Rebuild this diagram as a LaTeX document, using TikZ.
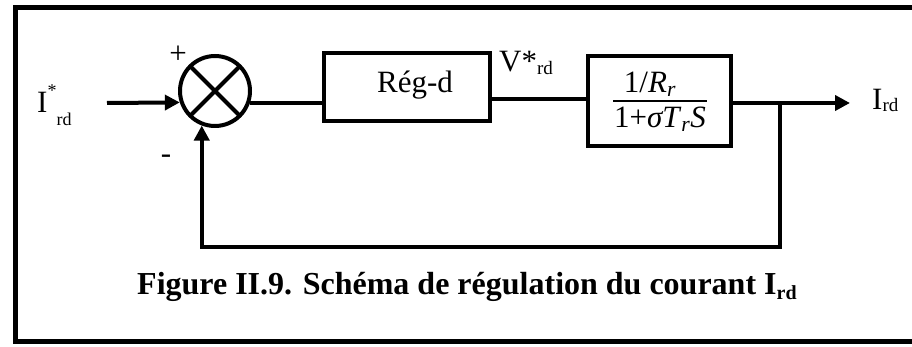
\documentclass[tikz,border=0pt]{standalone}
\usepackage{fontspec}
\setmainfont{Liberation Serif}
\usetikzlibrary{arrows.meta,calc}
\begin{document}
\begin{tikzpicture}[x=1pt,y=1pt,
  wire/.style={line width=4pt},
  arr/.style={wire,-{Triangle[length=15pt,width=15pt]}},
  blockbox/.style={draw,line width=4pt,inner sep=0pt},
  lbl/.style={inner sep=0pt,font=\fontsize{31}{31}\selectfont}]
\useasboundingbox (0,0) rectangle (912,347);
% outer frame
\draw[line width=5pt] (912,339) -- (15,339) -- (15,5) -- (912,5);
% summing junction
\node[draw,circle,line width=4pt,minimum size=70pt,inner sep=0pt] (sum) at (215,256) {};
\draw[line width=4pt] ($(sum.center)+(45:35)$) -- ($(sum.center)+(225:35)$);
\draw[line width=4pt] ($(sum.center)+(135:35)$) -- ($(sum.center)+(315:35)$);
\node[lbl] (plus) at (178,292) {+};
\node[lbl] (minus) at (166,188) {-};
% blocks
\node[blockbox,minimum width=166pt,minimum height=68pt] (reg) at (407,260) {};
\node[lbl,anchor=base] (regt) at (415,254) {Rég-d};
\node[blockbox,minimum width=143pt,minimum height=90pt] (tf) at (659.5,246) {};
\node[lbl,anchor=base] (num) at (650,254) {1/\textit{R}\textsubscript{\textit{r}}};
\node[lbl,anchor=base] (den) at (660,219) {1+\textit{σT}\textsubscript{\textit{r}}\textit{S}};
\draw[line width=1.5pt] (613,246) -- (707,246);
% input
\coordinate (in) at (107,244);
\draw[arr] (in) -- (sum.198.9);
\node[lbl,anchor=base west] (iref) at (37,234) {I{\fontsize{18}{18}\selectfont\raisebox{16pt}{*}\raisebox{-13pt}{rd}}};
% forward path
\draw[wire] (sum.341.1) -- (sum.341.1 -| reg.west);
\draw[wire] ([yshift=-12pt]reg.east) -- ([yshift=-12pt]reg.east -| tf.west);
\node[lbl,anchor=base west] (vlab) at (499,275) {V*\raisebox{-3pt}{\fontsize{19}{19}\selectfont rd}};
\coordinate (out) at (850,244);
\draw[arr] (tf.east |- out) -- (out);
\node[lbl,anchor=base west] (ilab) at (872,237) {I\raisebox{-2pt}{\fontsize{19}{19}\selectfont rd}};
% feedback
\coordinate (br) at (780,244);
\coordinate (fb) at (780,100);
\draw[arr] (br) -- (fb) -| (sum.249.4);
% caption
\node[inner sep=0pt,anchor=base west,font=\bfseries\fontsize{32}{32}\selectfont] (cap) at (137,52) {Figure II.9. Schéma de régulation du courant I\raisebox{-5pt}{\fontsize{20}{20}\selectfont rd}};
\end{tikzpicture}
\end{document}
